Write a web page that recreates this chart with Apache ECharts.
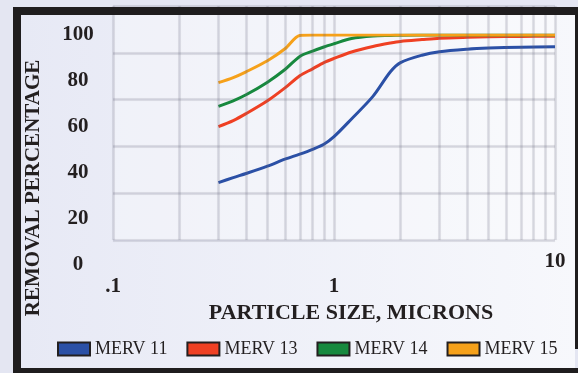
<!DOCTYPE html>
<html><head><meta charset="utf-8">
<script src="https://cdn.jsdelivr.net/npm/echarts@6/dist/echarts.min.js"></script>
<style>
html,body{margin:0;padding:0;background:#e4e6f2;overflow:hidden;}
#panel{position:absolute;left:21px;top:15px;width:554px;height:353px;background:linear-gradient(to right,#e7e9f5,#f7f8fc);}
#chart{position:absolute;left:0;top:0;width:578px;height:373px;}
</style></head>
<body><div id="panel"></div><div id="chart"></div>
<script>
// particle size (microns)
const sizes  = [0.3, 0.35, 0.4, 0.5, 0.6, 0.7, 0.8, 0.9, 1.0, 1.2, 1.5, 1.8, 2.0, 2.5, 3.0, 4.0, 5.0, 7.0, 10.0];
// removal percentage
const merv11 = [35.8, 38.0, 39.8, 43.0, 46.0, 48.2, 50.3, 52.5, 55.8, 63.5, 73.3, 84.0, 88.0, 91.2, 92.7, 93.8, 94.3, 94.7, 94.9];
const merv13 = [60.2, 62.8, 65.8, 71.4, 77.0, 82.3, 85.3, 88.0, 89.8, 92.6, 95.0, 96.5, 97.2, 98.0, 98.6, 99.0, 99.2, 99.4, 99.5];
const merv14 = [69.0, 71.4, 74.0, 79.5, 85.0, 90.7, 93.0, 94.8, 96.2, 98.5, 99.6, 99.8, 99.9, 100, 100, 100, 100, 100, 100];
const merv15 = [79.3, 81.5, 84.0, 88.8, 94.0, 99.8, 100, 100, 100, 100, 100, 100, 100, 100, 100, 100, 100, 100, 100];
const seriesNames = ['MERV 11', 'MERV 13', 'MERV 14', 'MERV 15'];
const seriesColors = ['#2b50a6', '#ef4023', '#17893e', '#f6a11a'];
const xTickLabels = {'-1': '.1', '0': '1', '1': '10'};
const gridX = [0.2, 0.3, 0.4, 0.5, 0.6, 0.7, 0.8, 0.9, 2, 3, 4, 5, 6, 7, 8, 9];
const xTitle = 'PARTICLE SIZE, MICRONS';
const yTitle = 'REMOVAL PERCENTAGE';

const FONT = '"Liberation Serif", "Times New Roman", serif';
const INK = '#231f20';
const gl = {color: 'rgba(100,100,125,0.2)', width: 2.5, shadowBlur: 2, shadowColor: 'rgba(100,100,125,0.25)'};

const dataSets = [merv11, merv13, merv14, merv15];
const lineSeries = dataSets.map((arr, i) => ({
  type: 'line', name: seriesNames[i], xAxisIndex: 0, yAxisIndex: 0,
  data: sizes.map((x, j) => [x, arr[j]]),
  smooth: 0.3, symbol: 'none', showSymbol: false, z: 3,
  lineStyle: {width: 3, color: seriesColors[i]},
  itemStyle: {color: seriesColors[i]},
  emphasis: {disabled: true}
}));

const chart = echarts.init(document.getElementById('chart'), null, {renderer: 'canvas'});
chart.setOption({
  backgroundColor: 'transparent',
  animation: false,
  grid: [
    {left: 113, right: 23, top: 35, bottom: 108},
    {left: 113, right: 23, top: 6, bottom: 133, show: true, backgroundColor: 'rgba(255,255,255,0.3)', borderWidth: 0}
  ],
  xAxis: [
    {type: 'log', logBase: 10, gridIndex: 0, min: 0.1, max: 10,
     axisLine: {show: false}, axisTick: {show: false}, splitLine: {show: false},
     axisLabel: {margin: 22, verticalAlign: 'middle', fontFamily: FONT, fontWeight: 'bold', fontSize: 21, color: INK,
       formatter: v => { const k = Math.round(Math.log10(v)); const t = xTickLabels[k]; return k === 1 ? '{up|' + t + '}' : t; },
       rich: {up: {fontFamily: FONT, fontWeight: 'bold', fontSize: 21, color: INK, padding: [0, 0, 50, 0]}}}},
    {type: 'log', logBase: 10, gridIndex: 1, min: 0.1, max: 10,
     axisLine: {show: false}, axisTick: {show: false}, axisLabel: {show: false},
     splitLine: {show: true, lineStyle: gl}}
  ],
  yAxis: [
    {type: 'value', gridIndex: 0, min: 0, max: 100, interval: 20,
     axisLine: {show: false}, axisTick: {show: false}, splitLine: {show: false},
     axisLabel: {margin: 35, align: 'center', verticalAlign: 'middle', fontFamily: FONT, fontWeight: 'bold', fontSize: 21, color: INK}},
    {type: 'value', gridIndex: 1, min: 0, max: 5, interval: 1,
     axisLine: {show: false}, axisTick: {show: false}, axisLabel: {show: false},
     splitLine: {show: true, lineStyle: gl}}
  ],
  legend: {
    data: seriesNames, left: 52, top: 335, itemWidth: 32, itemHeight: 13, itemGap: 19, icon: 'rect',
    selectedMode: false,
    itemStyle: {borderColor: INK, borderWidth: 2},
    textStyle: {fontFamily: FONT, fontSize: 18, color: INK}
  },
  series: [
    {type: 'line', name: 'gridlines', xAxisIndex: 1, yAxisIndex: 1, data: [], silent: true, z: 1,
     markLine: {silent: true, symbol: ['none', 'none'], label: {show: false}, animation: false,
       lineStyle: Object.assign({type: 'solid'}, gl),
       emphasis: {disabled: true},
       data: gridX.map(v => ({xAxis: v}))}}
  ].concat(lineSeries),
  graphic: [
    {type: 'rect', z: 100, shape: {x: 13, y: 7, width: 565, height: 8}, style: {fill: '#1f1d1e'}},
    {type: 'rect', z: 100, shape: {x: 13, y: 7, width: 8, height: 366}, style: {fill: '#1f1d1e'}},
    {type: 'rect', z: 100, shape: {x: 13, y: 368, width: 565, height: 5}, style: {fill: '#1f1d1e'}},
    {type: 'rect', z: 100, shape: {x: 575, y: 7, width: 3, height: 342}, style: {fill: '#1f1d1e'}},
    {type: 'text', z: 100, x: 34, y: 188, rotation: Math.PI / 2,
     style: {text: yTitle, fontFamily: FONT, fontWeight: 'bold', fontSize: 21, fill: INK, align: 'center', verticalAlign: 'middle'}},
    {type: 'text', z: 100, x: 351, y: 313,
     style: {text: xTitle, fontFamily: FONT, fontWeight: 'bold', fontSize: 22, fill: INK, align: 'center', verticalAlign: 'middle'}}
  ]
});
</script>
</body></html>
